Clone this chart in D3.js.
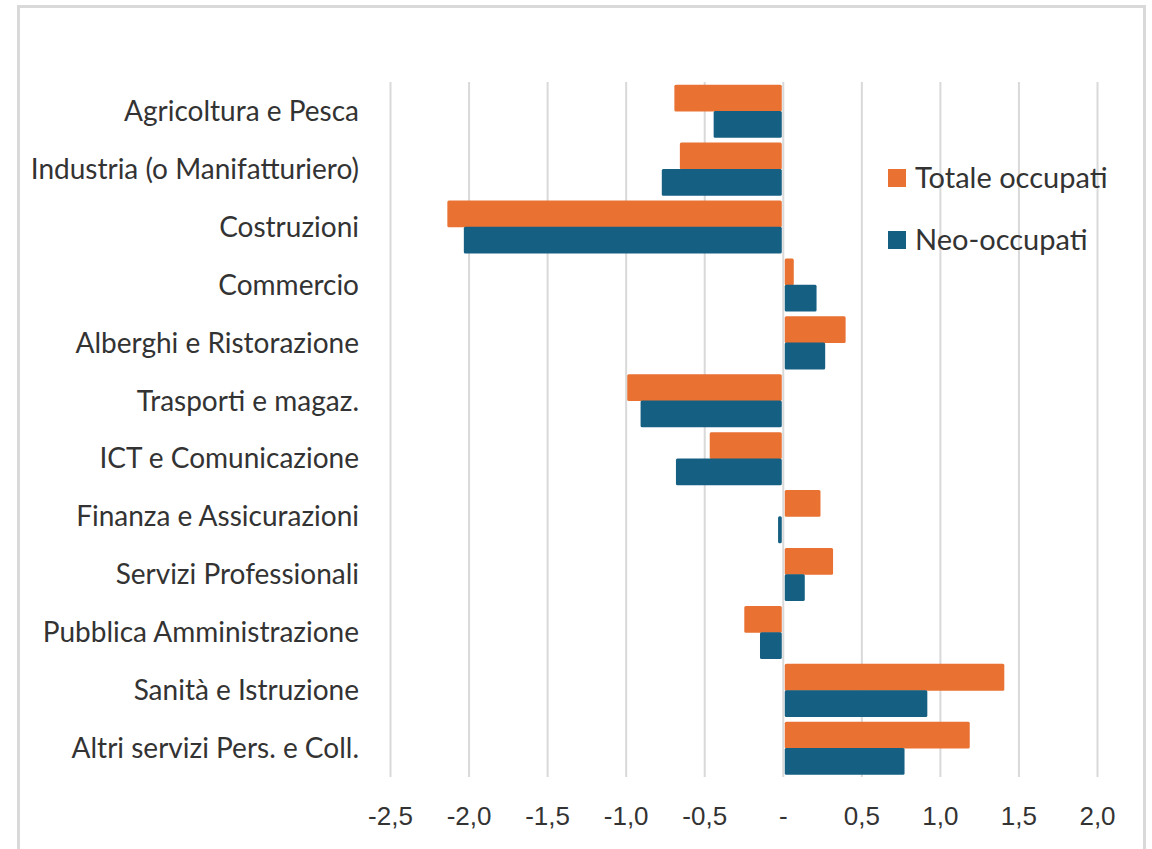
<!DOCTYPE html>
<html>
<head>
<meta charset="utf-8">
<script src="https://cdn.jsdelivr.net/npm/d3@7"></script>
<style>
  body { margin: 0; background: #fff; }
  svg { display: block; }
</style>
</head>
<body>
<div id="chart"></div>
<script>
// sectors, top to bottom
var categories = [
    "Agricoltura e Pesca",
    "Industria (o Manifatturiero)",
    "Costruzioni",
    "Commercio",
    "Alberghi e Ristorazione",
    "Trasporti e magaz.",
    "ICT e Comunicazione",
    "Finanza e Assicurazioni",
    "Servizi Professionali",
    "Pubblica Amministrazione",
    "Sanità e Istruzione",
    "Altri servizi Pers. e Coll."
];

var seriesNames = ["Totale occupati", "Neo-occupati"];
var seriesColors = ["#E97132", "#156082"];

var totaleOccupati = [-0.69, -0.655, -2.135, 0.07, 0.40, -0.99, -0.465, 0.24, 0.32, -0.245, 1.41, 1.19];
var neoOccupati    = [-0.44, -0.77, -2.03, 0.215, 0.27, -0.905, -0.68, -0.03, 0.14, -0.145, 0.92, 0.775];

var tickValues = [-2.5, -2.0, -1.5, -1.0, -0.5, 0, 0.5, 1.0, 1.5, 2.0];

var W = 1152, H = 849;
var margin = {top: 82, right: 55, bottom: 72, left: 390};

var svg = d3.select("#chart").append("svg")
    .attr("width", W)
    .attr("height", H);

// chart frame (bottom edge runs off the picture)
svg.append("rect")
    .attr("x", 18.5).attr("y", 6.5)
    .attr("width", 1126).attr("height", 900)
    .attr("fill", "#fff")
    .attr("stroke", "#d9d9d9")
    .attr("stroke-width", 3);

var x = d3.scaleLinear()
    .domain([-2.5, 2.0])
    .range([margin.left, W - margin.right]);

var y = d3.scaleBand()
    .domain(categories)
    .range([margin.top, H - margin.bottom]);

var ySub = d3.scaleBand()
    .domain(seriesNames)
    .range([0, y.bandwidth()])
    .paddingInner(0)
    .paddingOuter(0.1);

var color = d3.scaleOrdinal().domain(seriesNames).range(seriesColors);

// gridlines
svg.append("g")
    .attr("transform", "translate(0," + margin.top + ")")
    .call(d3.axisBottom(x).tickValues(tickValues).tickSize(H - margin.bottom - margin.top).tickFormat(""))
    .call(function(g) {
        g.select(".domain").remove();
        g.selectAll(".tick line").attr("stroke", "#d9d9d9").attr("stroke-width", 2);
    });

// bars
var rows = categories.map(function(c, i) {
    return {cat: c, values: [
        {name: seriesNames[0], value: totaleOccupati[i]},
        {name: seriesNames[1], value: neoOccupati[i]}
    ]};
});

var groups = svg.append("g").selectAll("g")
    .data(rows)
    .join("g")
    .attr("transform", function(d) { return "translate(0," + y(d.cat) + ")"; });

groups.selectAll("rect")
    .data(function(d) { return d.values; })
    .join("rect")
    .attr("x", function(d) { return x(Math.min(0, d.value)) + (d.value > 0 ? 2 : 0); })
    .attr("y", function(d) { return ySub(d.name); })
    .attr("width", function(d) { return Math.max(1, Math.abs(x(d.value) - x(0)) - (d.value > 0 ? 2 : 1)); })
    .attr("height", ySub.bandwidth() + 0.5)
    .attr("rx", 1.5)
    .attr("fill", function(d) { return color(d.name); });

// category labels
svg.append("g")
    .attr("transform", "translate(" + (margin.left - 31) + ",1)")
    .call(d3.axisLeft(y).tickSize(0).tickPadding(0))
    .call(function(g) {
        g.select(".domain").remove();
        g.selectAll(".tick text")
            .attr("font-family", "Lato, 'Open Sans', sans-serif")
            .attr("font-size", "28px")
            .attr("fill", "#333");
    });

// value axis labels
var fmt = function(d) {
    if (d === 0) return "-";
    return d3.format(".1f")(d).replace(".", ",").replace("\u2212", "-");
};

svg.append("g")
    .attr("transform", "translate(0," + (H - margin.bottom) + ")")
    .call(d3.axisBottom(x).tickValues(tickValues).tickSize(0).tickPadding(30).tickFormat(fmt))
    .call(function(g) {
        g.select(".domain").remove();
        g.selectAll(".tick text")
            .attr("font-family", "'Liberation Sans', Arial, sans-serif")
            .attr("font-size", "26px")
            .attr("fill", "#333");
    });

// legend
var legend = svg.append("g")
    .selectAll("g")
    .data(seriesNames)
    .join("g")
    .attr("transform", function(d, i) { return "translate(888," + (178 + i * 62) + ")"; });

legend.append("rect")
    .attr("x", 0).attr("y", -9)
    .attr("width", 18).attr("height", 18)
    .attr("fill", function(d) { return color(d); });

legend.append("text")
    .attr("x", 27)
    .attr("dy", "0.35em")
    .attr("font-family", "Lato, 'Open Sans', sans-serif")
    .attr("font-size", "29px")
    .attr("fill", "#333")
    .text(function(d) { return d; });
</script>
</body>
</html>
